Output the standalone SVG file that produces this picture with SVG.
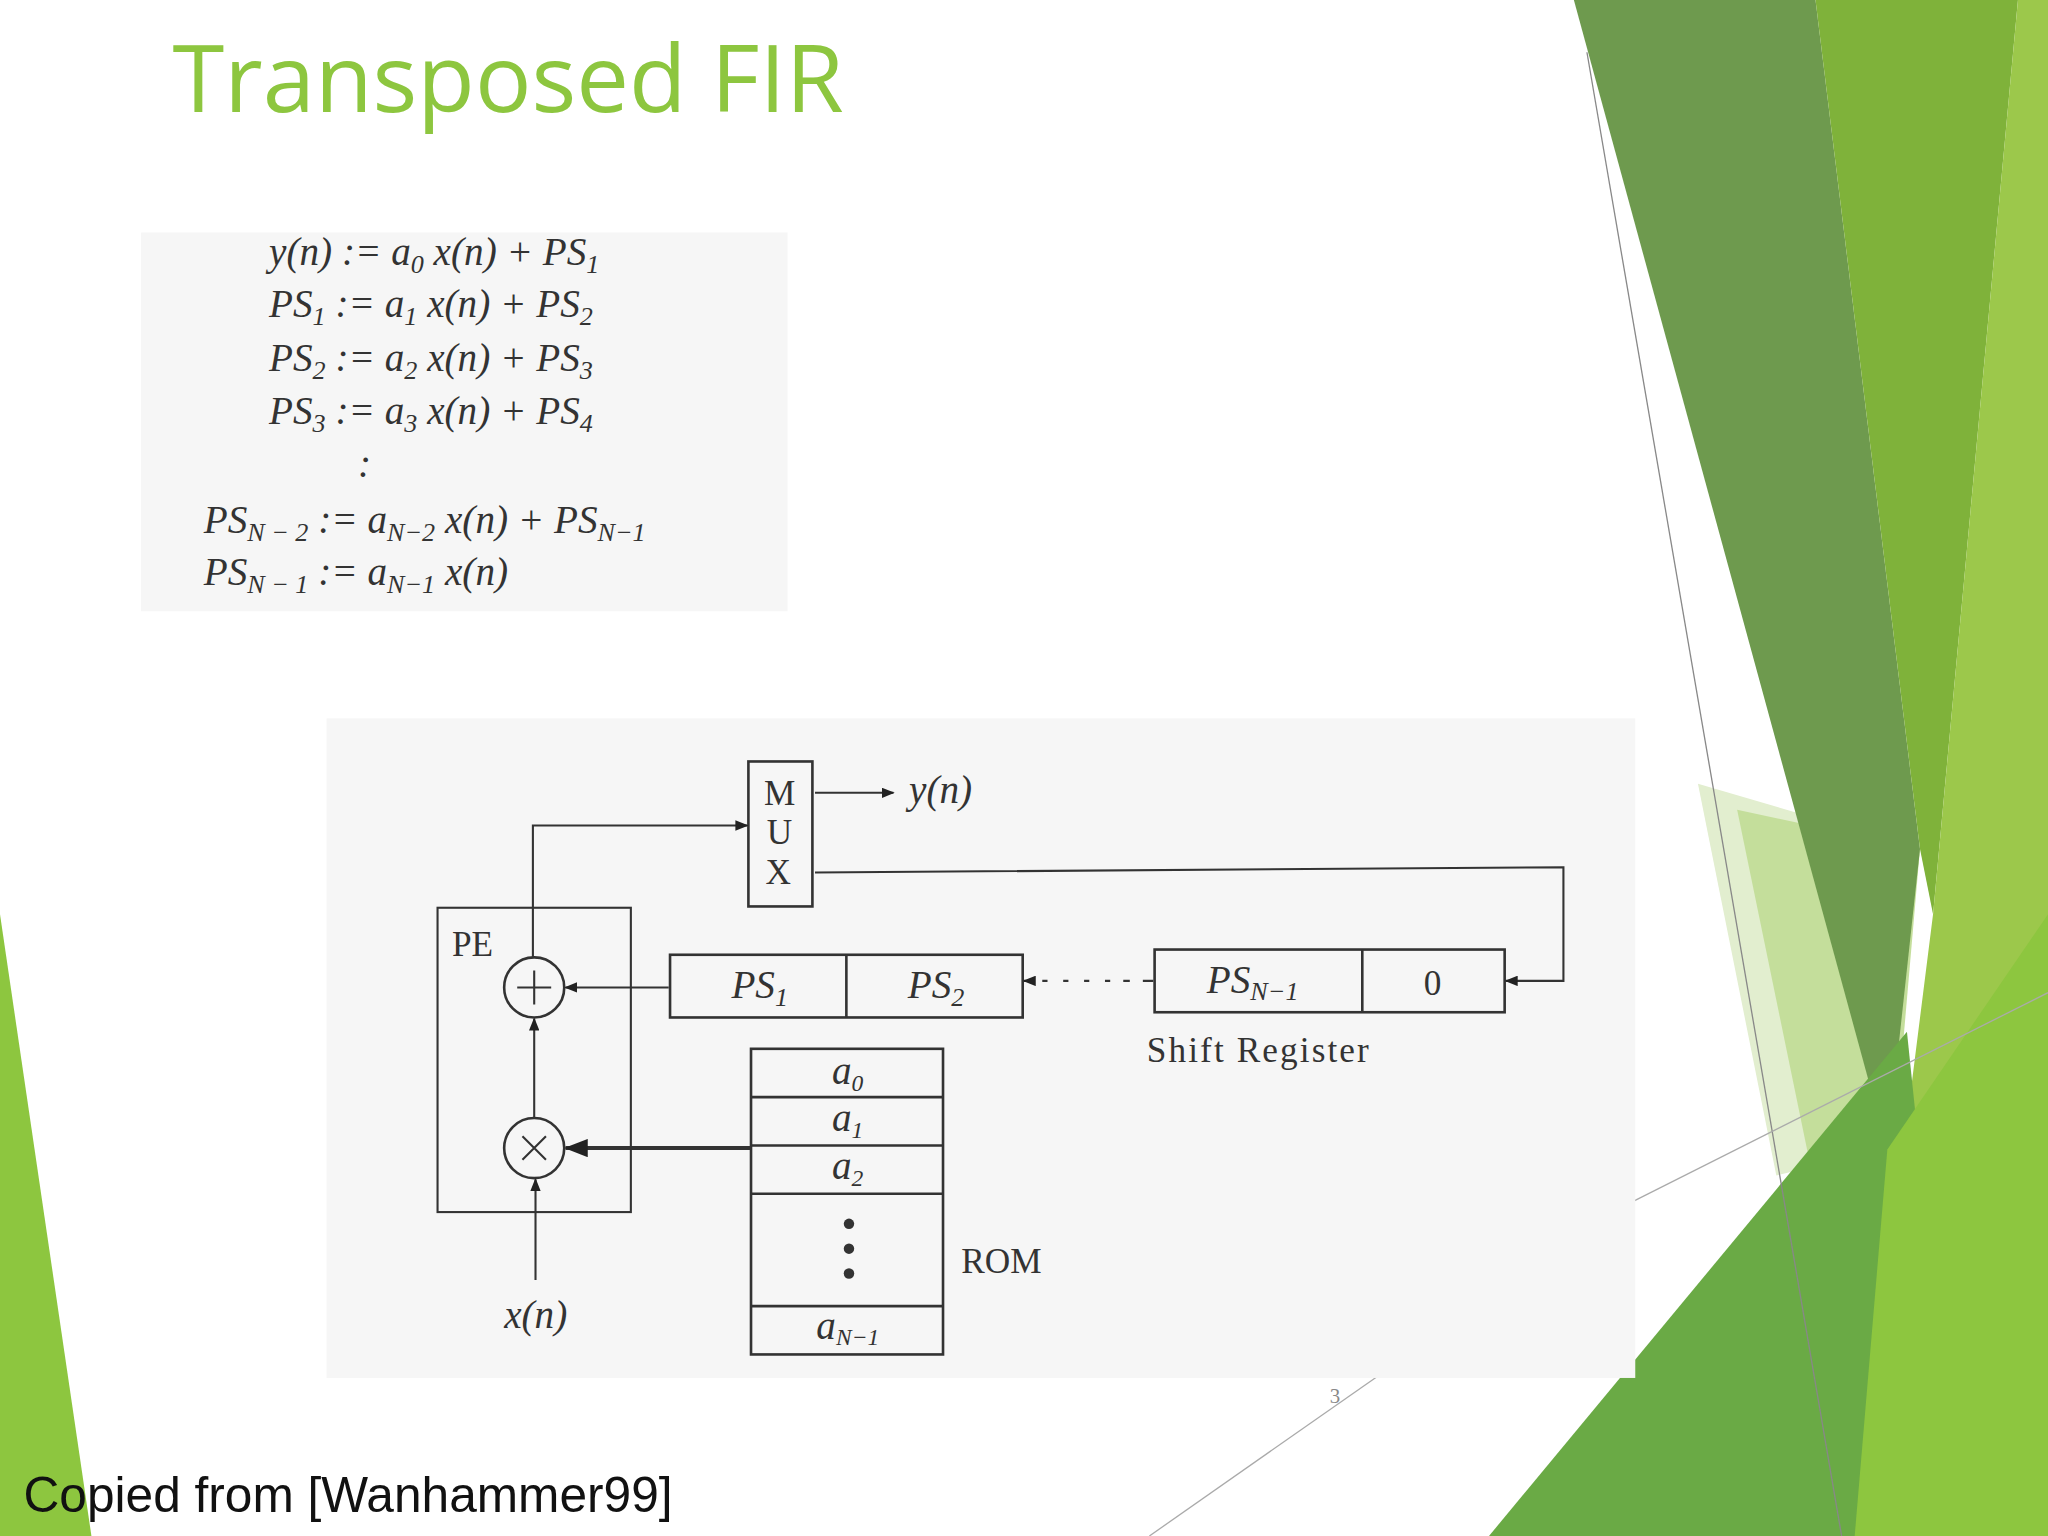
<svg xmlns="http://www.w3.org/2000/svg" width="2048" height="1536" viewBox="0 0 2048 1536">
<defs>
<marker id="ah" markerWidth="10" markerHeight="8" refX="9" refY="4" orient="auto" markerUnits="userSpaceOnUse"><path d="M0,0 L10,4 L0,8 z" fill="#222"/></marker>
<marker id="ahb" markerWidth="18" markerHeight="14" refX="17" refY="7" orient="auto" markerUnits="userSpaceOnUse"><path d="M0,0 L18,7 L0,14 z" fill="#222"/></marker>
</defs>
<style>
.m{font-family:"Liberation Serif","DejaVu Serif",serif;font-style:italic;fill:#333;font-size:30px}
.r{font-family:"Liberation Serif","DejaVu Serif",serif;fill:#333;font-size:27px}
.box{fill:none;stroke:#333;stroke-width:2}
.ln{fill:none;stroke:#333;stroke-width:1.6}
</style>
<rect width="2048" height="1536" fill="#fff"/>
<g transform="scale(1.30612)">
<g id="background">
<polygon points="0,700 70,1176 0,1176" fill="#8dc63f"/>
<polygon points="1300,600 1470,650 1445,880 1360,900" fill="#e2eecf"/>
<polygon points="1330,620 1470,650 1450,880 1400,960" fill="#c4de9b"/>
<polygon points="1205,0 1390,0 1470,650 1445,880" fill="#6e9a4e"/>
<polygon points="1390,0 1545,0 1480,700 1470,650" fill="#7fb23a"/>
<polygon points="1545,0 1568,0 1568,1176 1420,1176 1480,700" fill="#9cc84b"/>
<polygon points="1140,1176 1460,790 1500,1176" fill="#6aaa45"/>
<polygon points="1445,880 1568,700 1568,1176 1420,1176" fill="#8dc63f"/>
<line x1="1215" y1="40" x2="1410" y2="1176" stroke="#888" stroke-width="1"/>
<line x1="1250" y1="920" x2="1568" y2="760" stroke="#aaa" stroke-width="1"/>
<line x1="880" y1="1176" x2="1060" y2="1050" stroke="#aaa" stroke-width="1"/>
</g>
<text x="132" y="86" font-family="'Open Sans','Noto Sans',sans-serif" font-size="72" fill="#8dc63f">Transposed FIR</text>
<g id="equations">
<rect x="108" y="178" width="495" height="290" fill="#f6f6f6"/>
<text class="m" x="206" y="203">y(n) := a<tspan font-size="20" dy="6">0</tspan><tspan dy="-6"> x(n) + PS</tspan><tspan font-size="20" dy="6">1</tspan></text>
<text class="m" x="206" y="243">PS<tspan font-size="20" dy="6">1</tspan><tspan dy="-6"> := a</tspan><tspan font-size="20" dy="6">1</tspan><tspan dy="-6"> x(n) + PS</tspan><tspan font-size="20" dy="6">2</tspan></text>
<text class="m" x="206" y="284">PS<tspan font-size="20" dy="6">2</tspan><tspan dy="-6"> := a</tspan><tspan font-size="20" dy="6">2</tspan><tspan dy="-6"> x(n) + PS</tspan><tspan font-size="20" dy="6">3</tspan></text>
<text class="m" x="206" y="325">PS<tspan font-size="20" dy="6">3</tspan><tspan dy="-6"> := a</tspan><tspan font-size="20" dy="6">3</tspan><tspan dy="-6"> x(n) + PS</tspan><tspan font-size="20" dy="6">4</tspan></text>
<text class="m" x="274" y="365">:</text>
<text class="m" x="156" y="408">PS<tspan font-size="20" dy="6">N − 2</tspan><tspan dy="-6"> := a</tspan><tspan font-size="20" dy="6">N−2</tspan><tspan dy="-6"> x(n) + PS</tspan><tspan font-size="20" dy="6">N−1</tspan></text>
<text class="m" x="156" y="448">PS<tspan font-size="20" dy="6">N − 1</tspan><tspan dy="-6"> := a</tspan><tspan font-size="20" dy="6">N−1</tspan><tspan dy="-6"> x(n)</tspan></text>
</g>
<rect x="250" y="550" width="1002" height="505" fill="#f6f6f6"/>
<g id="pe"><rect class="ln" x="335" y="695" width="148" height="233"/><text class="r" x="346" y="732">PE</text></g>
<g id="adder"><circle class="box" cx="409" cy="756" r="23"/><path class="ln" d="M396,756 H422 M409,743 V769"/></g>
<g id="mult"><circle class="box" cx="409" cy="879" r="23"/><path class="ln" d="M400,870 L418,888 M418,870 L400,888"/></g>
<g id="mux"><rect class="box" x="573" y="583" width="49" height="111"/><text class="r" x="585" y="616">M</text><text class="r" x="587" y="646">U</text><text class="r" x="586" y="677">X</text></g>
<g id="shiftreg">
<rect class="box" x="513" y="731" width="270" height="48"/><line class="box" x1="648" y1="731" x2="648" y2="779"/>
<text class="m" x="560" y="764">PS<tspan font-size="20" dy="6">1</tspan></text>
<text class="m" x="695" y="764">PS<tspan font-size="20" dy="6">2</tspan></text>
<rect class="box" x="884" y="727" width="268" height="48"/><line class="box" x1="1043" y1="727" x2="1043" y2="775"/>
<text class="m" x="924" y="760">PS<tspan font-size="20" dy="6">N−1</tspan></text>
<text class="r" x="1090" y="762">0</text>
<text class="r" x="878" y="813" textLength="170">Shift Register</text>
</g>
<g id="rom">
<rect class="box" x="575" y="803" width="147" height="234"/>
<path class="box" d="M575,840 H722 M575,877 H722 M575,914 H722 M575,1000 H722"/>
<text class="m" x="637" y="830">a<tspan font-size="18" dy="5">0</tspan></text>
<text class="m" x="637" y="866">a<tspan font-size="18" dy="5">1</tspan></text>
<text class="m" x="637" y="903">a<tspan font-size="18" dy="5">2</tspan></text>
<circle cx="650" cy="937" r="4" fill="#333"/><circle cx="650" cy="956" r="4" fill="#333"/><circle cx="650" cy="975" r="4" fill="#333"/>
<text class="m" x="625" y="1025">a<tspan font-size="18" dy="5">N−1</tspan></text>
<text class="r" x="736" y="975">ROM</text>
</g>
<text class="m" x="696" y="615">y(n)</text>
<text class="m" x="386" y="1017">x(n)</text>
<g id="connectors">
<line class="ln" x1="624" y1="607" x2="684" y2="607" marker-end="url(#ah)"/>
<polyline class="ln" points="408,733 408,632 572,632" marker-end="url(#ah)"/>
<polyline class="ln" points="624,668 1197,664 1197,751 1153,751" marker-end="url(#ah)"/>
<line class="ln" x1="512" y1="756" x2="433" y2="756" marker-end="url(#ah)"/>
<line class="ln" x1="883" y1="751" x2="860" y2="751" stroke-dasharray="8,10"/>
<line class="ln" x1="850" y1="751" x2="784" y2="751" stroke-dasharray="4,12" marker-end="url(#ah)"/>
<line x1="575" y1="879" x2="433" y2="879" stroke="#333" stroke-width="3" marker-end="url(#ahb)"/>
<line class="ln" x1="409" y1="856" x2="409" y2="780" marker-end="url(#ah)"/>
<line class="ln" x1="410" y1="980" x2="410" y2="903" marker-end="url(#ah)"/>
</g>
<text x="1018" y="1074" font-family="'Liberation Serif',serif" font-size="16" fill="#888">3</text>
<text x="18" y="1158" font-family="'Liberation Sans',Arial,sans-serif" font-size="38" fill="#111">Copied from [Wanhammer99]</text>
</g>
</svg>
